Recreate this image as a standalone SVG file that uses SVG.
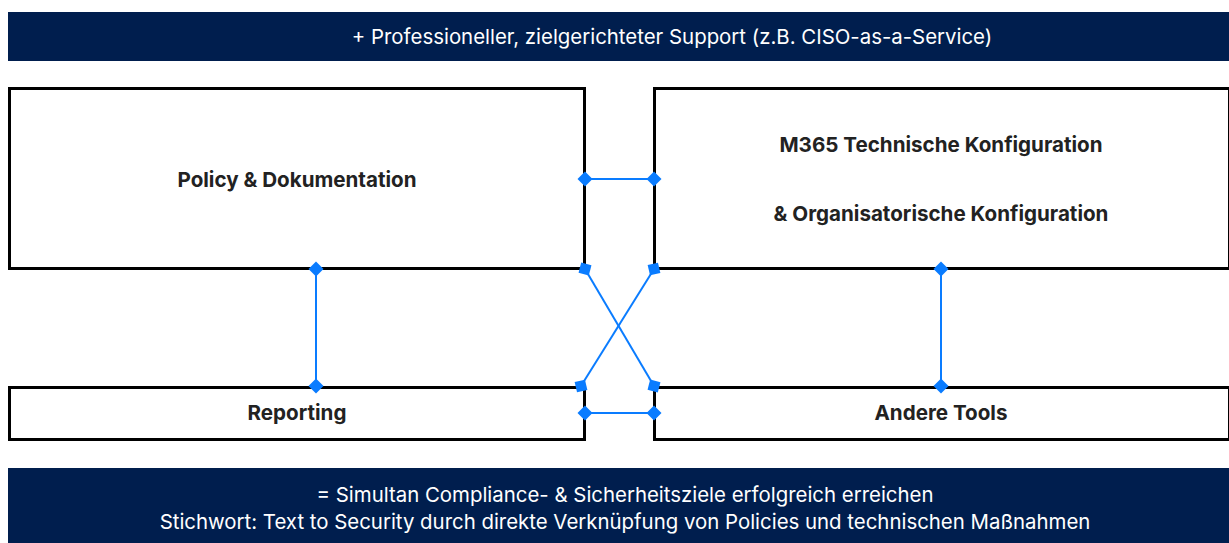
<svg xmlns="http://www.w3.org/2000/svg" width="1229" height="543" viewBox="0 0 1229 543">
<style>
.banner{fill:#001E4E}
.btxt{fill:#fff;font-family:Inter,"Noto Sans",sans-serif;font-size:20.4px;text-anchor:middle}
.box{fill:#fff;stroke:#000;stroke-width:3}
.lbl{fill:#222;font-family:Inter,"Noto Sans",sans-serif;font-size:20.6px;font-weight:700;text-anchor:middle}
.con{stroke:#0A7CFF;stroke-width:2;fill:none;marker-start:url(#d);marker-end:url(#d)}
</style>
<defs>
<marker id="d" viewBox="-8 -8 16 16" markerWidth="16" markerHeight="16" markerUnits="userSpaceOnUse" orient="auto">
<path d="M-7.5 0L0-7.5L7.5 0L0 7.5Z" fill="#0A7CFF"/>
</marker>
</defs>
<g id="top-banner"><rect class="banner" x="8" y="12" width="1221" height="49"/><text class="btxt" x="672" y="44">+ Professioneller, zielgerichteter Support (z.B. CISO-as-a-Service)</text></g>
<g id="policy"><rect class="box" x="9.5" y="88.5" width="575" height="180"/><text class="lbl" x="297" y="187">Policy &amp; Dokumentation</text></g>
<g id="m365"><rect class="box" x="654.5" y="88.5" width="575" height="180"/><text class="lbl" x="941" y="152">M365 Technische Konfiguration</text><text class="lbl" x="941" y="221">&amp; Organisatorische Konfiguration</text></g>
<g id="reporting"><rect class="box" x="9.5" y="387.5" width="575" height="52"/><text class="lbl" x="297" y="420">Reporting</text></g>
<g id="tools"><rect class="box" x="654.5" y="387.5" width="575" height="52"/><text class="lbl" x="941" y="420">Andere Tools</text></g>
<g id="bottom-banner"><rect class="banner" x="8" y="468" width="1221" height="75"/><text class="btxt" x="625" y="502">= Simultan Compliance- &amp; Sicherheitsziele erfolgreich erreichen</text><text class="btxt" x="625" y="529">Stichwort: Text to Security durch direkte Verknüpfung von Policies und technischen Maßnahmen</text></g>
<g id="connectors">
<line class="con" x1="585" y1="179" x2="654" y2="179"/>
<line class="con" x1="585" y1="413" x2="654" y2="413"/>
<line class="con" x1="316" y1="269" x2="316" y2="386"/>
<line class="con" x1="941" y1="269" x2="941" y2="386"/>
<line class="con" x1="585" y1="269" x2="654" y2="386"/>
<line class="con" x1="654" y1="269" x2="581" y2="386"/>
</g>
</svg>
